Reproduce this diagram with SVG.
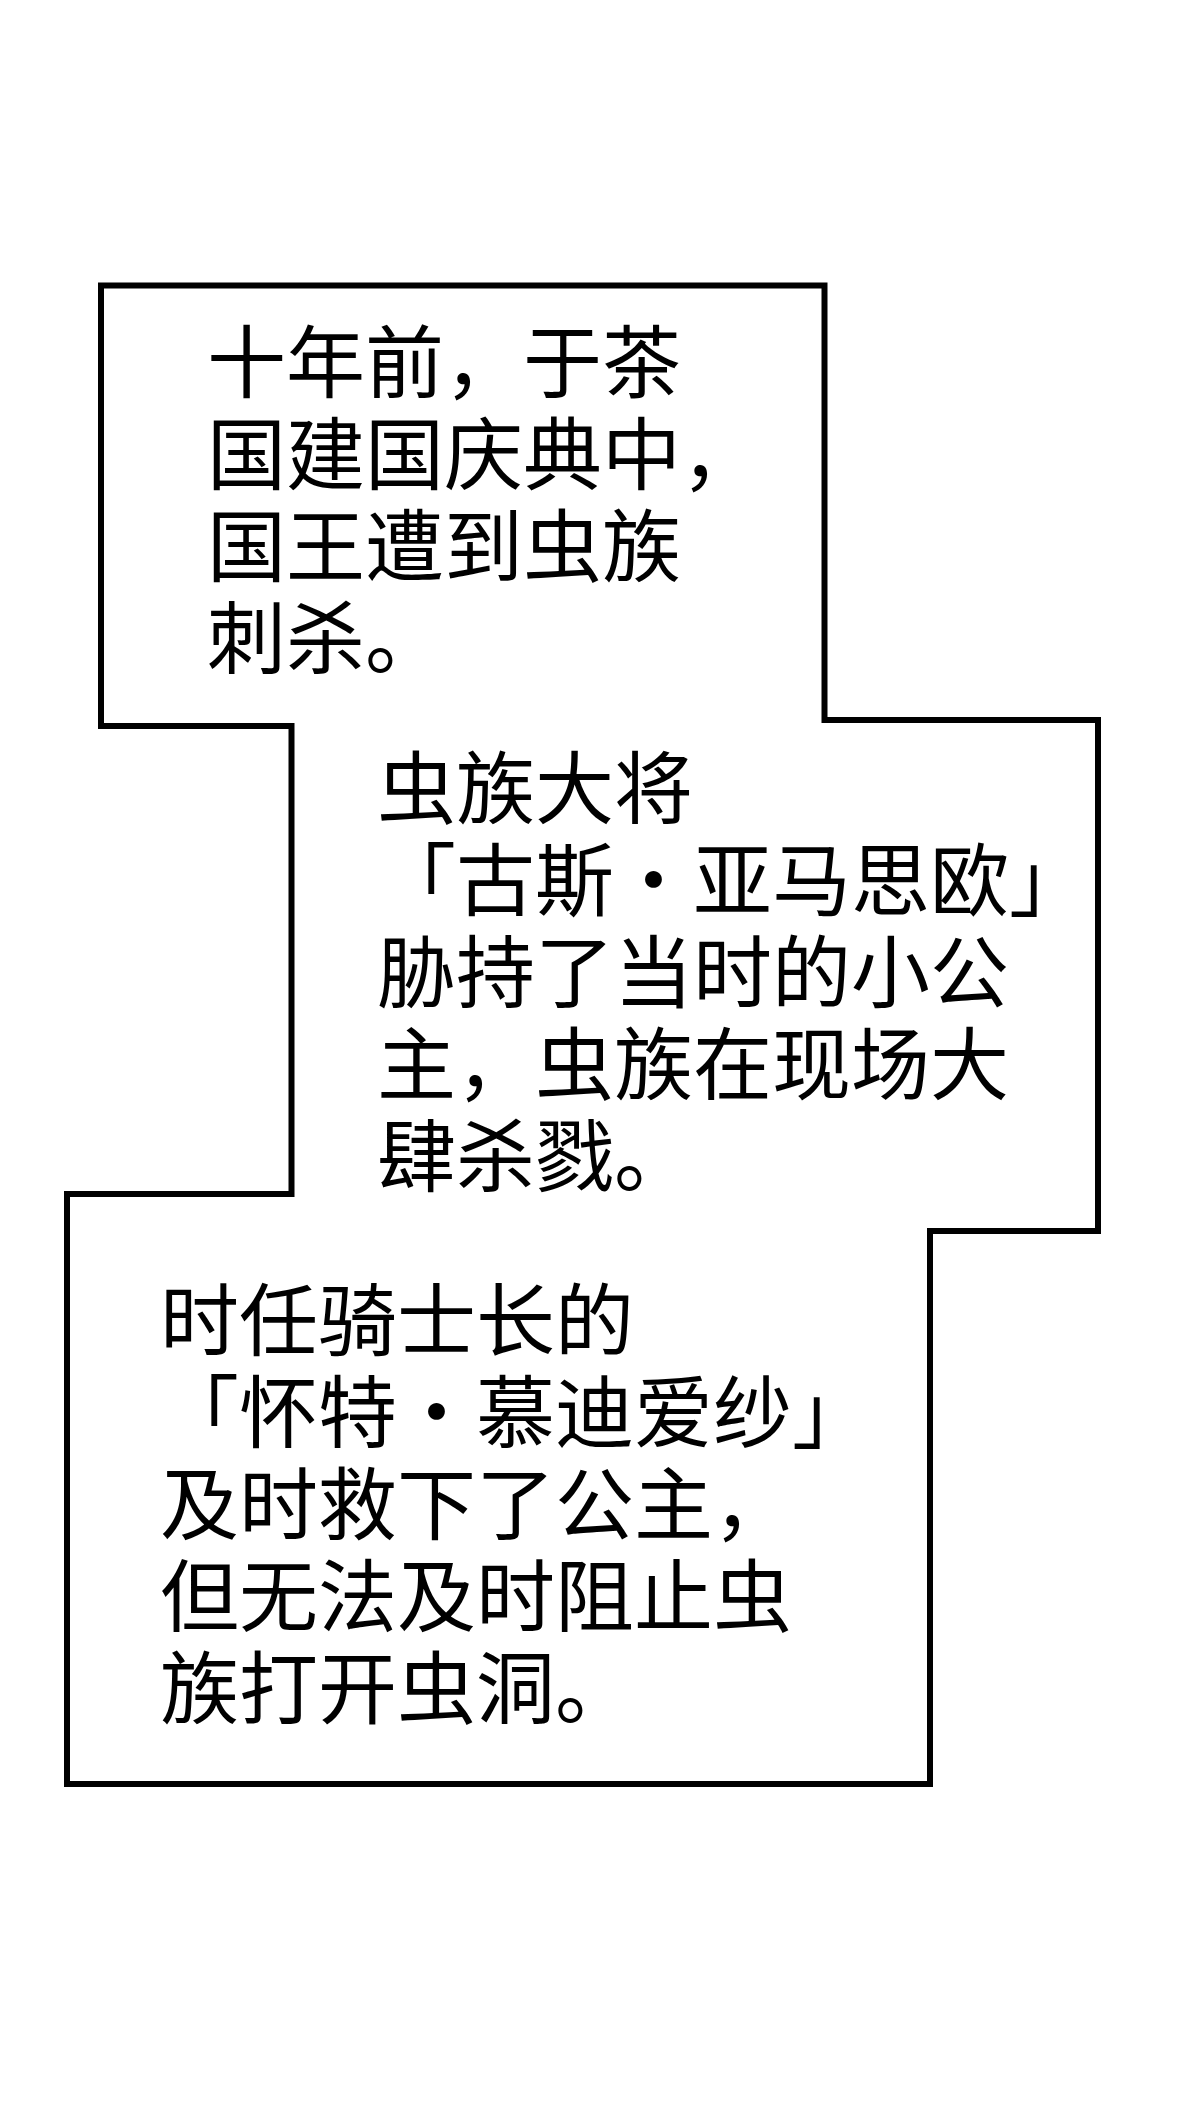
<svg xmlns="http://www.w3.org/2000/svg" width="1200" height="2128" viewBox="0 0 1200 2128">
<style>
.frame{fill:#ffffff;stroke:#000000;stroke-width:6;stroke-linejoin:miter}
.t{font-family:"Noto Sans CJK SC","Noto Sans",sans-serif;font-size:79px;fill:#000000}
</style>
<rect width="1200" height="2128" fill="#ffffff"/>
<g id="frame">
<path class="frame" d="M101,285.5 L824.5,285.5 L824.5,720 L1098,720 L1098,1231 L930,1231 L930,1784 L67,1784 L67,1194 L291.5,1194 L291.5,726 L101,726 Z"/>
</g>
<g id="block1">
<text class="t" x="207" y="392">十年前，于茶</text>
<text class="t" x="207" y="484">国建国庆典中，</text>
<text class="t" x="207" y="576">国王遭到虫族</text>
<text class="t" x="207" y="668">刺杀。</text>
</g>
<g id="block2">
<text class="t" x="377" y="818">虫族大将</text>
<text class="t" x="377" y="910">「古斯・亚马思欧」</text>
<text class="t" x="377" y="1002">胁持了当时的小公</text>
<text class="t" x="377" y="1094">主，虫族在现场大</text>
<text class="t" x="377" y="1186">肆杀戮。</text>
</g>
<g id="block3">
<text class="t" x="160" y="1350">时任骑士长的</text>
<text class="t" x="160" y="1442">「怀特・慕迪爱纱」</text>
<text class="t" x="160" y="1534">及时救下了公主，</text>
<text class="t" x="160" y="1626">但无法及时阻止虫</text>
<text class="t" x="160" y="1718">族打开虫洞。</text>
</g>
</svg>
